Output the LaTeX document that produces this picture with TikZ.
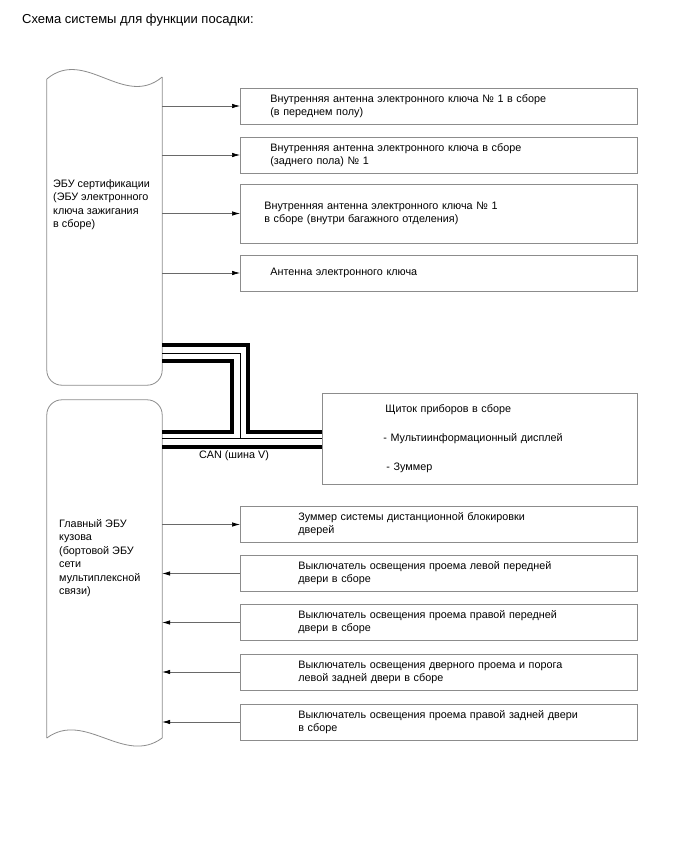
\documentclass[tikz,border=0pt]{standalone}
\usepackage{fontspec}
\setmainfont{Liberation Sans}
\usepackage{tikz}
\usetikzlibrary{arrows.meta,positioning,calc}
\usepackage{xcolor}
\definecolor{linegray}{RGB}{105,105,105}
\definecolor{boxgray}{RGB}{140,140,140}
\tikzset{
  part/.style={draw=boxgray, line width=0.8pt, minimum width=397pt, minimum height=36pt,
    inner xsep=0pt, inner ysep=0pt, align=left, anchor=west, font=\fontsize{10.8}{13}\selectfont},
  ecu/.style={minimum width=115pt, inner sep=0pt},
  eculine/.style={draw=boxgray, line width=0.8pt},
  ecutext/.style={anchor=north west, inner sep=0pt, align=left, font=\fontsize{10.8}{13.5}\selectfont},
  sig/.style={draw=linegray, line width=0.7pt, -{Latex[length=8pt,width=4.5pt,color=black]}},
  canthick/.style={line width=3.6pt},
  canthin/.style={line width=0.9pt}
}

\begin{document}
\begin{tikzpicture}[x=1pt, y=-1pt]
    \useasboundingbox (0,0) rectangle (688,852);

    % Title
    \node[anchor=base west, inner sep=0pt, font=\fontsize{13}{15}\selectfont] (title) at (22,23) {Схема системы для функции посадки:};

    % ECUs (left)
    \node[ecu, minimum height=315pt] (cert) at (104.5,227.5) {};
    \node[ecu, minimum height=346pt] (body) at (104.5,573) {};
    \draw[eculine] (cert.west |- 0,79) .. controls (85,47) and (124,109) .. (cert.east |- 0,77);
    \draw[eculine, rounded corners=15pt] (cert.east |- 0,77) -- (cert.south east) -- (cert.south west) -- (cert.west |- 0,79);
    \draw[eculine, rounded corners=15pt] (body.west |- 0,738) -- (body.north west) -- (body.north east) -- (body.east |- 0,738);
    \draw[eculine] (body.west |- 0,738) .. controls (85,710) and (124,766) .. (body.east |- 0,738);
    \node[ecutext] (certtxt) at (53,179) {ЭБУ сертификации\\(ЭБУ электронного\\ключа зажигания\\в сборе)};
    \node[ecutext] (bodytxt) at (59,519) {Главный ЭБУ\\кузова\\(бортовой ЭБУ\\сети\\мультиплексной\\связи)};

    % Antennas
    \node[part, text width=337pt] (ant1) at (240,106) {Внутренняя антенна электронного ключа № 1 в сборе\\(в переднем полу)};
    \node[part, text width=337pt] (ant2) at (240,155) {Внутренняя антенна электронного ключа в сборе\\(заднего пола) № 1};
    \node[part, text width=349pt, minimum height=59pt] (ant3) at (240,213.5) {Внутренняя антенна электронного ключа № 1\\в сборе (внутри багажного отделения)};
    \node[part, text width=337pt] (ant4) at (240,273) {Антенна электронного ключа};
    \foreach \n in {ant1,ant2,ant3,ant4}
        \draw[sig] (cert.east |- \n.west) -- (\n.west);

    % Combination meter
    \node[part, minimum width=315pt, minimum height=91pt, text width=195pt, font=\fontsize{10.8}{29}\selectfont] (meter) at (322,438.5)
        {\hspace*{3pt}Щиток приборов в сборе\\\hspace*{1pt}- Мультиинформационный дисплей\\\hspace*{4pt}- Зуммер};

    % CAN bus
    \draw[canthick] (cert.east |- 0,345) -| (248,432) -- (meter.west |- 0,432);
    \draw[canthin] (cert.east |- 0,353) -| (240,438);
    \draw[canthick] (cert.east |- 0,361) -| (232,432) -- (body.east |- 0,432);
    \draw[canthin] (body.east |- 0,438) -- (meter.west |- 0,438);
    \draw[canthick] (body.east |- 0,447) -- (meter.west |- 0,447);
    \node[inner sep=0pt, font=\fontsize{10.8}{13}\selectfont] (canlbl) at (234,456) {CAN (шина V)};

    % Door switches
    \node[part, text width=281pt] (dr0) at (240,524.5) {Зуммер системы дистанционной блокировки\\дверей};
    \node[part, text width=281pt] (dr1) at (240,573.5) {Выключатель освещения проема левой передней\\двери в сборе};
    \node[part, text width=281pt] (dr2) at (240,622.5) {Выключатель освещения проема правой передней\\двери в сборе};
    \node[part, text width=281pt] (dr3) at (240,672) {Выключатель освещения дверного проема и порога\\левой задней двери в сборе};
    \node[part, text width=281pt] (dr4) at (240,722) {Выключатель освещения проема правой задней двери\\в сборе};
    \draw[sig] (body.east |- dr0.west) -- (dr0.west);
    \foreach \n in {dr1,dr2,dr3,dr4}
        \draw[sig] (\n.west) -- (body.east |- \n.west);
\end{tikzpicture}
\end{document}
